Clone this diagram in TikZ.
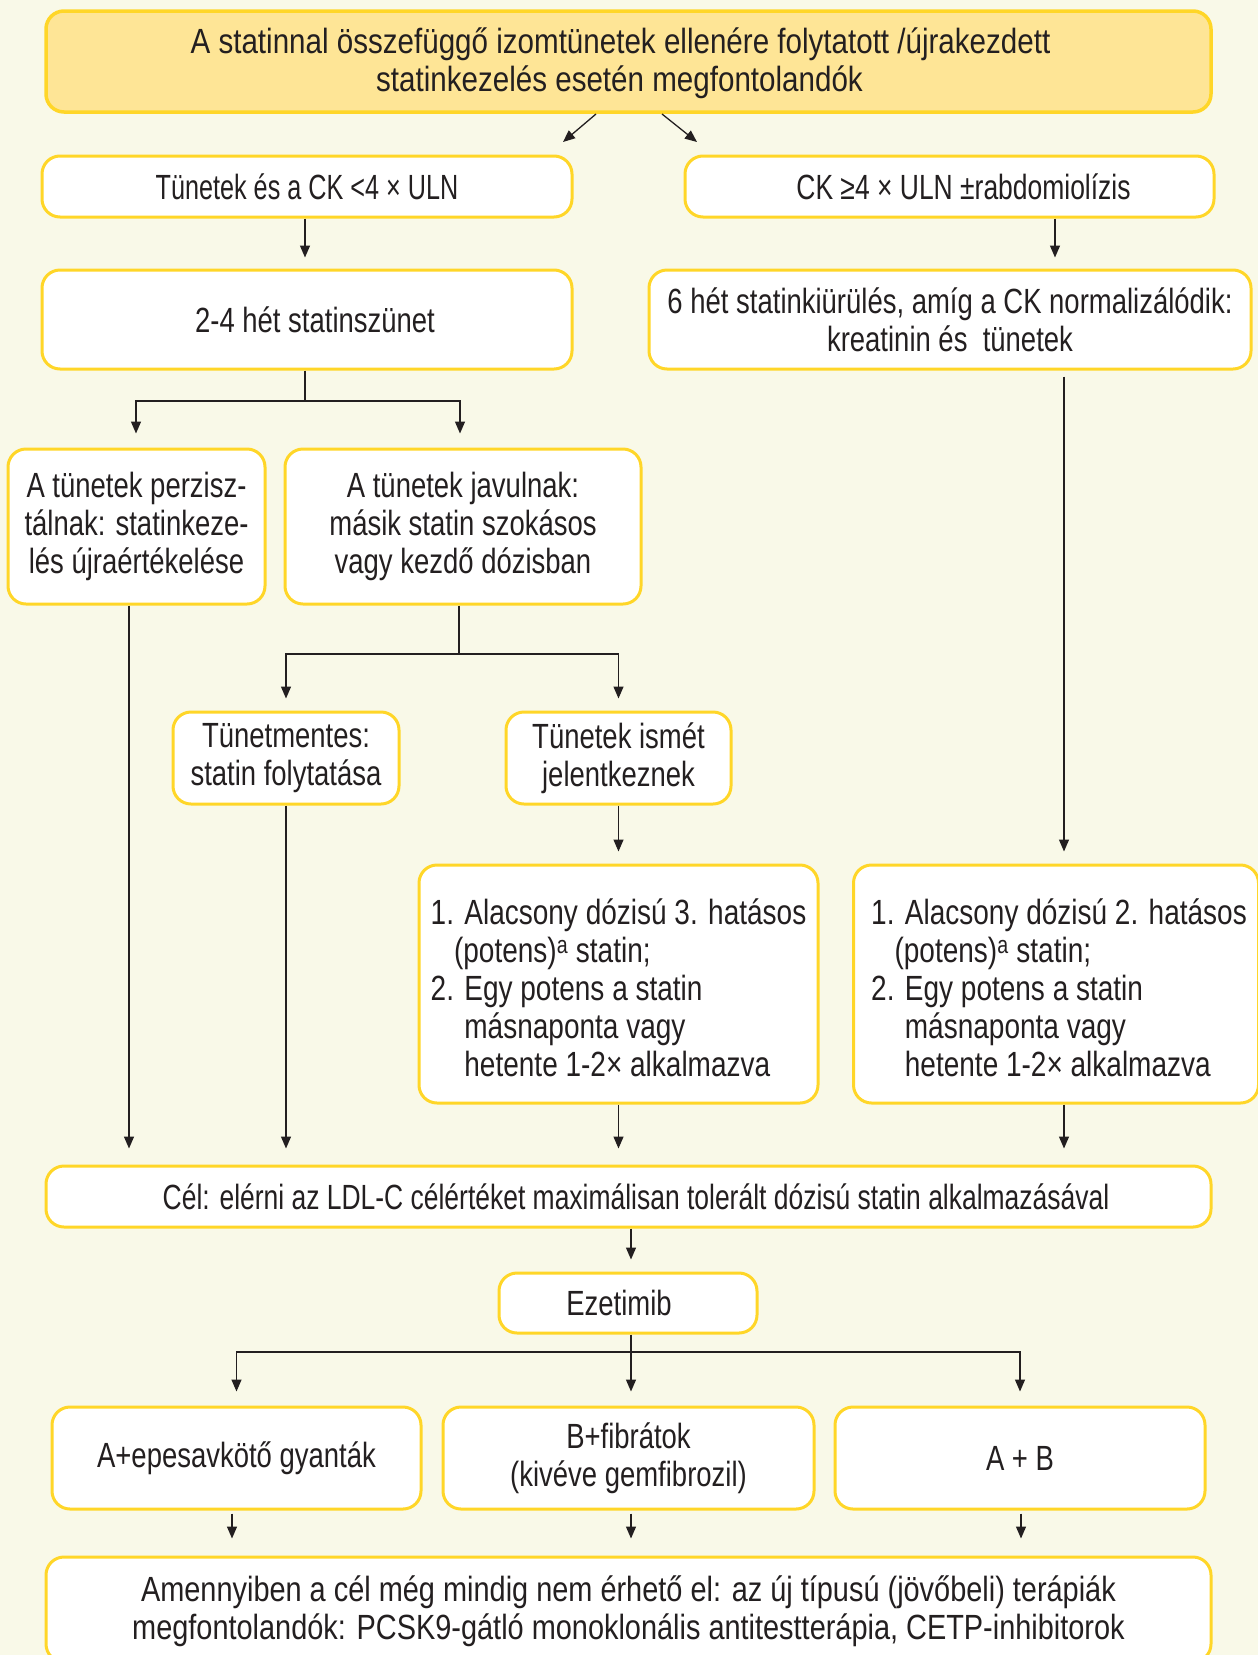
\documentclass[tikz,border=0pt]{standalone}
\usepackage{fontspec}
\setmainfont{Liberation Sans}[FakeStretch=0.785]
\newfontfamily\widefont{Liberation Sans}[FakeStretch=0.845]
\newfontfamily\finfont{Liberation Sans}[FakeStretch=0.826]
\newfontfamily\narrowfont{Liberation Sans}[FakeStretch=0.72]
\newfontfamily\goalfont{Liberation Sans}[FakeStretch=0.756]
\newfontfamily\listfont{Liberation Sans}[FakeStretch=0.80]
\usetikzlibrary{arrows.meta,calc}

\definecolor{bg}{RGB}{249,249,232}
\definecolor{bord}{RGB}{255,214,40}
\definecolor{titfill}{RGB}{254,229,150}
\definecolor{ink}{RGB}{35,31,32}

\begin{document}
\begin{tikzpicture}[x=1pt,y=-1pt,
  box/.style={draw=bord, line width=3pt, fill=white, rounded corners=18pt,
    align=center, font=\fontsize{35}{38}\selectfont, text=ink, inner sep=0pt},
  listbox/.style={box, align=left, font=\listfont\fontsize{35}{38}\selectfont},
  conn/.style={draw=ink, line width=1.3pt},
  arr/.style={conn, -{Triangle[length=12pt,width=10pt]}},
]
\useasboundingbox[fill=bg] (0,0) rectangle (1258,1655);

% nodes
\node[box, fill=titfill, line width=3.5pt, minimum width=1165pt, minimum height=101pt,
      font=\widefont\fontsize{35}{38}\selectfont] (title) at (628.5,61.5)
  {\rule{0pt}{30pt}A statinnal összefüggő izomtünetek ellenére folytatott /újrakezdett\hspace*{16pt}\\statinkezelés esetén megfontolandók\hspace*{18pt}};
\node[box, minimum width=530pt, minimum height=61pt, font=\narrowfont\fontsize{35}{38}\selectfont] (t1) at (307,186.5) {Tünetek és a CK <4 × ULN};
\node[box, minimum width=529pt, minimum height=61pt, font=\goalfont\fontsize{35}{38}\selectfont] (t2) at (949.5,186.5) {\hspace*{28pt}CK ≥4 × ULN ±rabdomiolízis};
\node[box, minimum width=530pt, minimum height=99pt] (s1) at (307,319.5) {\hspace*{16pt}2-4 hét statinszünet};
\node[box, minimum width=602pt, minimum height=99pt] (s2) at (950,319.5)
  {6 hét statinkiürülés, amíg a CK normalizálódik:\\kreatinin és\ \ tünetek};
\node[box, minimum width=257pt, minimum height=155pt] (p1) at (136.5,526.5)
  {A tünetek perzisz-\\tálnak: statinkeze-\\lés újraértékelése};
\node[box, minimum width=356pt, minimum height=155pt] (p2) at (463,526.5)
  {A tünetek javulnak:\\másik statin szokásos\\vagy kezdő dózisban};
\node[box, minimum width=226pt, minimum height=92pt] (m1) at (286,758)
  {Tünetmentes:\\statin folytatása};
\node[box, minimum width=225pt, minimum height=92pt] (m2) at (618.5,758)
  {Tünetek ismét\\jelentkeznek};
\node[listbox, minimum width=399pt, minimum height=238pt] (l1) at (618.5,984)
  {\rule{0pt}{33pt}1. Alacsony dózisú 3. hatásos\\\phantom{1.}(potens)\textsuperscript{a} statin;\\2. Egy potens a statin\\\phantom{2. }másnaponta vagy\\\phantom{2. }hetente 1-2× alkalmazva};
\node[listbox, minimum width=405pt, minimum height=238pt] (l2) at (1056,984)
  {\rule{0pt}{33pt}\hspace*{6pt}1. Alacsony dózisú 2. hatásos\\\hspace*{6pt}\phantom{1.}(potens)\textsuperscript{a} statin;\\\hspace*{6pt}2. Egy potens a statin\\\hspace*{6pt}\phantom{2. }másnaponta vagy\\\hspace*{6pt}\phantom{2. }hetente 1-2× alkalmazva};
\node[box, minimum width=1165pt, minimum height=61pt, font=\goalfont\fontsize{35}{38}\selectfont] (goal) at (628.5,1196.5)
  {\hspace*{15pt}Cél: elérni az LDL-C célértéket maximálisan tolerált dózisú statin alkalmazásával};
\node[box, minimum width=258pt, minimum height=60pt] (ez) at (628,1303) {Ezetimib\hspace*{18pt}};
\node[box, minimum width=369pt, minimum height=102pt] (b1) at (236.5,1458) {A+epesavkötő gyanták};
\node[box, minimum width=371pt, minimum height=102pt] (b2) at (628.5,1458) {B+fibrátok\\(kivéve gemfibrozil)};
\node[box, minimum width=370pt, minimum height=102pt] (b3) at (1020,1458) {A + B};
\node[box, minimum width=1165pt, minimum height=105pt, font=\finfont\fontsize{35}{38}\selectfont] (fin) at (628.5,1609.5)
  {\rule{0pt}{30pt}Amennyiben a cél még mindig nem érhető el: az új típusú (jövőbeli) terápiák\\megfontolandók: PCSK9-gátló monoklonális antitestterápia, CETP-inhibitorok};

% free-end coordinates
\coordinate (a1s) at (596,114);
\coordinate (a1e) at (563,142);
\coordinate (a2s) at (662,114);
\coordinate (a2e) at (697,142);
\coordinate (j1) at (305,401);
\coordinate (j2) at (459,654);
\coordinate (j3) at (631,1352);

% connectors
\draw[arr] (a1s) -- (a1e);
\draw[arr] (a2s) -- (a2e);
\draw[arr, shorten >=11pt] ([xshift=-2pt]t1.south) -- ([xshift=-2pt]s1.north);
\draw[arr, shorten >=11pt] ([xshift=105.5pt]t2.south) -- ([xshift=105.5pt]t2.south |- s2.north);
\draw[conn] ([xshift=-2pt]s1.south) -- (j1);
\draw[arr, shorten >=14pt] (j1) -| ([xshift=-0.5pt]p1.north);
\draw[arr, shorten >=14pt] (j1) -| ([xshift=-3pt]p2.north);
\draw[arr, shorten <=6pt, shorten >=12pt] ([xshift=114pt]s2.south) -- ([xshift=114pt]s2.south |- l2.north);
\draw[arr, shorten >=16pt] ([xshift=-7.5pt]p1.south) -- ([xshift=-7.5pt]p1.south |- goal.north);
\draw[conn] ([xshift=-4pt]p2.south) -- (j2);
\draw[arr, shorten >=12pt] (j2) -| (m1.north);
\draw[arr, shorten >=12pt] (j2) -| (m2.north);
\draw[arr, shorten >=16pt] (m1.south) -- (m1.south |- goal.north);
\draw[arr, shorten >=12pt] (m2.south) -- (l1.north);
\draw[arr, shorten >=16pt] (l1.south) -- (l1.south |- goal.north);
\draw[arr, shorten >=16pt] ([xshift=8pt]l2.south) -- ([xshift=8pt]l2.south |- goal.north);
\draw[arr, shorten >=12pt] ([xshift=2.5pt]goal.south) -- ([xshift=3pt]ez.north);
\draw[arr, shorten >=14pt] ([xshift=3pt]ez.south) -- ([xshift=2.5pt]b2.north);
\draw[arr, shorten >=14pt] (j3) -| (b1.north);
\draw[arr, shorten >=14pt] (j3) -| (b3.north);
\draw[arr, shorten <=3pt, shorten >=17pt] ([xshift=-4.5pt]b1.south) -- ([xshift=-4.5pt]b1.south |- fin.north);
\draw[arr, shorten <=3pt, shorten >=17pt] ([xshift=2.5pt]b2.south) -- ([xshift=2.5pt]b2.south |- fin.north);
\draw[arr, shorten <=3pt, shorten >=17pt] ([xshift=1pt]b3.south) -- ([xshift=1pt]b3.south |- fin.north);
\end{tikzpicture}
\end{document}
